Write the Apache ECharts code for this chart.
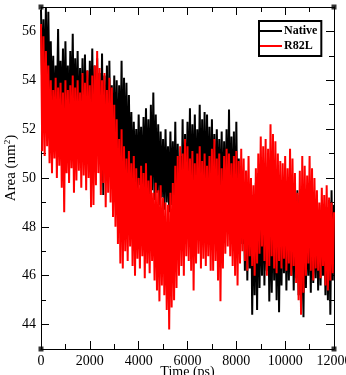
<!DOCTYPE html>
<html>
<head>
<meta charset="utf-8">
<script src="https://cdn.jsdelivr.net/npm/echarts@6/dist/echarts.min.js"></script>
<style>
html,body{margin:0;padding:0;background:#fff;}
#chart{width:346px;height:375px;}
</style>
</head>
<body>
<div id="chart"></div>
<script>
// Sampling step of the envelope readings (ps)
const timeStep = 100;
// Native (black): upper and lower envelope readings every 100 ps, t = 0..12000
const nativeHigh = [
  56.9, 56.5, 57.0, 56.8, 55.6, 55.0, 54.6, 56.1, 54.8, 55.3,
  55.6, 54.6, 55.2, 55.9, 54.9, 55.2, 54.5, 54.9, 55.05, 54.4,
  54.8, 55.3, 54.6, 54.9, 54.3, 55.1, 54.2, 54.6, 54.8, 53.8,
  54.2, 54.0, 53.8, 54.8, 54.1, 53.9, 53.4, 52.7, 52.3, 52.0,
  52.6, 52.1, 52.5, 52.85, 52.4, 53.0, 53.5, 52.6, 52.2, 51.9,
  51.6, 52.0, 51.3, 51.9, 51.5, 52.3, 51.4, 50.9, 52.4, 51.8,
  52.3, 52.85, 52.2, 52.6, 52.0, 53.0, 52.4, 52.7, 52.6, 52.1,
  52.4, 51.8, 52.0, 51.6, 51.9, 51.5, 52.0, 52.8, 51.7, 51.9,
  52.3, 50.8, 50.2, 49.8, 50.3, 49.6, 49.9, 49.3, 49.8, 50.2,
  49.5, 49.9, 49.2, 49.6, 48.9, 49.4, 49.0, 49.5, 48.8, 49.2,
  49.6, 49.0, 48.7, 49.1, 48.9, 49.5, 49.3, 48.8, 49.2, 48.6,
  48.9, 49.3, 48.7, 49.0, 48.5, 48.9, 48.4, 48.8, 49.1, 49.5,
  48.9
];
const nativeLow = [
  53.5, 53.0, 52.8, 53.2, 52.4, 52.0, 52.6, 51.8, 52.3, 51.5,
  52.0, 51.6, 52.2, 51.4, 51.9, 51.2, 51.8, 51.0, 51.6, 51.3,
  51.7, 50.8, 51.5, 51.0, 50.5, 49.3, 50.9, 50.4, 51.0, 50.2,
  50.6, 50.0, 50.4, 49.8, 50.2, 49.6, 50.0, 49.4, 49.8, 49.3,
  49.7, 49.2, 49.6, 49.4, 49.0, 49.5, 49.1, 49.4, 48.9, 49.2,
  48.7, 49.0, 48.6, 48.9, 48.4, 48.0, 47.8, 48.2, 47.9, 48.5,
  48.8, 48.5, 49.0, 48.6, 49.1, 48.7, 49.0, 48.4, 48.8, 48.5,
  48.9, 48.3, 48.7, 48.4, 48.0, 48.5, 48.1, 47.8, 48.2, 47.5,
  47.8, 46.8, 47.3, 46.2, 45.8, 46.3, 44.4, 45.2, 44.6, 45.5,
  46.0, 45.6, 46.2, 44.95, 45.3, 45.8, 45.0, 44.5, 45.6, 46.1,
  45.4, 45.8, 46.0, 45.4, 45.9, 45.2, 44.6, 44.3, 45.5, 46.0,
  45.3, 45.7, 45.9, 45.4, 45.6, 46.0, 45.2, 45.0, 44.4, 45.8,
  46.3
];
// R82L (red): upper and lower envelope readings every 100 ps
const mutantHigh = [
  56.3, 55.8, 55.2, 54.6, 54.0, 53.6, 54.1, 53.7, 53.9, 53.5,
  54.0, 53.6, 53.8, 54.2, 53.7, 54.0, 53.5, 54.3, 53.9, 54.4,
  53.8, 54.2, 54.6, 55.2, 54.5, 54.0, 54.3, 53.6, 54.1, 53.7,
  53.0, 52.4, 51.6, 52.0, 51.3, 50.8, 51.1, 50.6, 50.9, 50.4,
  50.0, 50.5, 50.2, 50.6, 49.9, 50.1, 49.4, 49.8, 49.5, 49.7,
  49.2, 49.0, 48.9, 49.4, 49.8, 50.5, 50.9, 51.3, 51.0, 51.6,
  51.3, 50.8, 51.1, 50.6, 51.0, 51.3, 50.7, 51.0, 50.5, 50.9,
  51.2, 51.6, 50.8, 51.0, 50.4, 50.9, 51.2, 51.0, 50.6, 50.9,
  51.1, 50.7, 51.2, 50.8, 50.3, 50.9, 50.0, 49.7, 50.4, 51.0,
  51.7, 51.3, 51.6, 51.2, 52.2, 51.8, 51.5, 51.0, 50.7, 50.6,
  50.9, 50.4, 51.2, 50.8, 50.2, 49.4, 50.3, 50.9, 50.5, 50.1,
  50.9, 50.4, 50.0, 49.5, 49.0, 49.6, 49.3, 49.7, 49.2, 49.0,
  48.6
];
const mutantLow = [
  51.1, 50.9, 51.3, 50.6, 50.2, 50.8, 50.0, 50.5, 49.6, 48.6,
  50.2, 49.8, 50.4, 49.4, 49.9, 50.3, 49.6, 50.1, 49.5, 50.0,
  48.8, 48.9, 49.7, 50.2, 49.3, 49.8, 48.8, 49.4, 49.0, 48.4,
  48.0, 47.3, 46.5, 46.3, 47.0, 46.6, 47.2, 46.4, 46.0, 46.7,
  46.3, 46.8, 45.9, 46.5, 46.1, 46.6, 45.8, 45.4, 44.95, 45.6,
  45.2, 44.6, 43.8, 44.7, 45.0, 45.5, 46.0, 46.4, 46.0, 46.8,
  46.6, 46.2, 45.4, 46.5, 46.9, 46.3, 46.7, 46.4, 46.8, 46.2,
  46.2, 46.6, 45.8, 44.95, 46.3, 46.9, 47.2, 46.8, 46.4, 46.0,
  45.6, 46.5, 47.0, 46.6, 46.2, 46.8, 46.4, 46.0, 46.5, 46.9,
  47.2, 46.6, 46.0, 46.4, 46.8, 46.3, 46.1, 46.6, 46.3, 46.7,
  46.2, 46.5, 46.0, 46.4, 45.7, 45.0, 44.4, 45.3, 46.0, 46.5,
  46.2, 45.8, 46.3, 46.2, 45.9, 46.4, 45.6, 45.4, 45.8, 46.1,
  46.5
];
const seriesNames = ['Native', 'R82L'];
const yMajorTicks = [44, 46, 48, 50, 52, 54, 56];
const yMinorTicks = [45, 47, 49, 51, 53, 55];
const xRange = [0, 12000];
const yRange = [43, 57];

function zigzag(hi, lo) {
  const out = [];
  for (let i = 0; i < hi.length; i++) {
    const t = i * timeStep;
    out.push([t, hi[i]]);
    if (t + timeStep / 2 <= xRange[1]) out.push([t + timeStep / 2, lo[i]]);
  }
  return out;
}
const corners = [[xRange[0], yRange[0]], [xRange[1], yRange[0]], [xRange[0], yRange[1]], [xRange[1], yRange[1]]];

const FONT = 'Liberation Serif';
const chart = echarts.init(document.getElementById('chart'), null, {renderer: 'canvas'});
const axisLine = {show: true, lineStyle: {color: '#000', width: 1}};
function xAx(pos, labels) {
  return {
    type: 'value', position: pos, min: xRange[0], max: xRange[1], interval: 2000,
    axisLine: axisLine,
    axisTick: {show: true, inside: true, length: 8, lineStyle: {color: '#000'}},
    minorTick: {show: true, splitNumber: 2, length: 5, lineStyle: {color: '#000'}},
    splitLine: {show: false}, minorSplitLine: {show: false},
    axisLabel: {show: labels, color: '#000', fontFamily: FONT, fontSize: 14, margin: 5,
      formatter: function (v) { return String(v); }, hideOverlap: false},
    name: labels ? 'Time (ps)' : '', nameLocation: 'middle', nameGap: 16, nameMoveOverlap: false,
    nameTextStyle: {color: '#000', fontFamily: FONT, fontSize: 14}
  };
}
function yAx(pos, ticks, len, labels, line, name) {
  return {
    type: 'value', position: pos, min: yRange[0], max: yRange[1],
    axisLine: line ? axisLine : {show: false},
    axisTick: {show: true, inside: true, length: len, customValues: ticks, lineStyle: {color: '#000'}},
    splitLine: {show: false},
    axisLabel: labels ? {show: true, customValues: ticks, color: '#000', fontFamily: FONT, fontSize: 14, margin: 5,
      formatter: function (v) { return String(v); }} : {show: false},
    name: name || '', nameLocation: 'middle', nameRotate: 90, nameGap: 21, nameMoveOverlap: false,
    nameTextStyle: {color: '#000', fontFamily: FONT, fontSize: 15, padding: [0, 0, 0, 20],
      rich: {sup: {fontFamily: FONT, fontSize: 9, color: '#000', verticalAlign: 'top', padding: [0, 0, 8, 0]}}}
  };
}
chart.setOption({
  animation: false,
  backgroundColor: '#fff',
  grid: {left: 41, right: 12, top: 7, bottom: 26, containLabel: false, outerBoundsMode: 'none'},
  legend: {
    data: seriesNames, orient: 'vertical', left: 259, top: 21,
    backgroundColor: '#fff', borderColor: '#000', borderWidth: 2, borderRadius: 0,
    padding: [4, 4, 4, 1], itemGap: 3, itemWidth: 22, itemHeight: 2, icon: 'rect',
    textStyle: {fontFamily: FONT, fontWeight: 'bold', fontSize: 12, color: '#000', padding: [0, 0, 0, -3]}
  },
  xAxis: [xAx('bottom', true), xAx('top', false)],
  yAxis: [
    yAx('left', yMajorTicks, 8, true, true, 'Area (nm{sup|2})'),
    yAx('left', yMinorTicks, 5, false, false),
    yAx('right', yMajorTicks, 8, false, true),
    yAx('right', yMinorTicks, 5, false, false)
  ],
  series: [
    {name: seriesNames[0], type: 'line', data: zigzag(nativeHigh, nativeLow), showSymbol: false,
      lineStyle: {color: '#000', width: 2}, itemStyle: {color: '#000'}, z: 2},
    {name: seriesNames[1], type: 'line', data: zigzag(mutantHigh, mutantLow), showSymbol: false,
      lineStyle: {color: '#ff0000', width: 2}, itemStyle: {color: '#ff0000'}, z: 3},
    {name: 'corners', type: 'scatter', data: corners, symbol: 'rect', symbolSize: 5,
      itemStyle: {color: '#000'}, clip: false, silent: true, z: 5}
  ]
});
</script>
</body>
</html>
